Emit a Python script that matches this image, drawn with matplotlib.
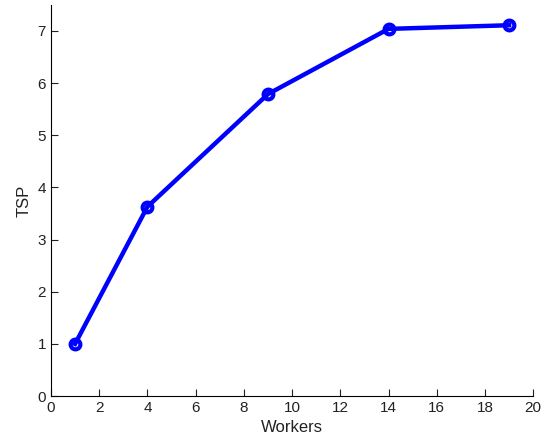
import matplotlib
matplotlib.use("Agg")
import matplotlib.pyplot as plt

workers = [1, 4, 9, 14, 19]
tsp = [1.0, 3.63, 5.79, 7.04, 7.11]
x_ticks = [0, 2, 4, 6, 8, 10, 12, 14, 16, 18, 20]
y_ticks = [0, 1, 2, 3, 4, 5, 6, 7]

plt.rcParams['font.family'] = ['Liberation Sans', 'DejaVu Sans']

fig = plt.figure(figsize=(5.48, 4.45), dpi=100)
ax = fig.add_axes([0.093, 0.110, 0.880, 0.879])
ax.plot(workers, tsp, color='#0000ff', linewidth=3.2, marker='o',
        markersize=7, markerfacecolor='none', markeredgecolor='#0000ff',
        markeredgewidth=3)
ax.set_xlim(0, 20)
ax.set_ylim(0, 7.5)
ax.set_xticks(x_ticks)
ax.set_yticks(y_ticks)
ax.spines['top'].set_visible(False)
ax.spines['right'].set_visible(False)
ax.tick_params(direction='in', length=5, labelsize=11, colors='#222222')
ax.set_xlabel('Workers', fontsize=12, color='#222222')
ax.set_ylabel('TSP', fontsize=12, color='#222222')
fig.savefig('out.png', dpi=100)
